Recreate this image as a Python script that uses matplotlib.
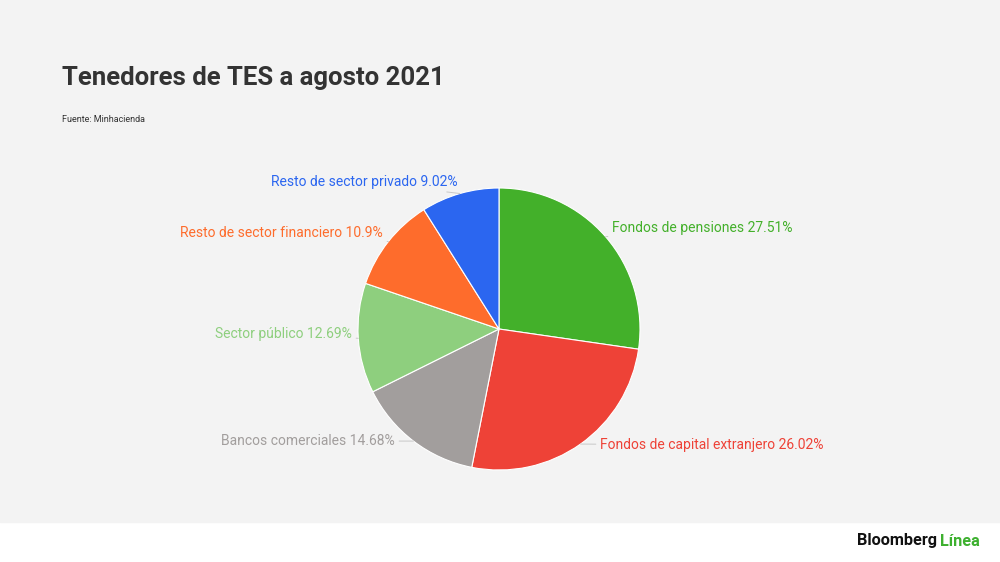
import matplotlib.pyplot as plt
import numpy as np

plt.rcParams['font.family'] = ['Roboto', 'DejaVu Sans']

# data
labels = ["Fondos de pensiones", "Fondos de capital extranjero", "Bancos comerciales",
          "Sector público", "Resto de sector financiero", "Resto de sector privado"]
shares = [27.51, 26.02, 14.68, 12.69, 10.9, 9.02]
pct_text = ["27.51%", "26.02%", "14.68%", "12.69%", "10.9%", "9.02%"]
colors = ["#43b02a", "#ee4237", "#a29e9d", "#8ecf7e", "#fe6c2c", "#2b66f0"]

# layout (pixels, y down)
W, H = 1000, 562
cx, cy, R = 499, 329, 141
label_pos = [(612, 228), (600, 445), (395, 441), (352, 334), (383, 233), (458, 182)]
label_ha = ["left", "left", "right", "right", "right", "right"]

fig = plt.figure(figsize=(W / 100, H / 100), dpi=100)
fig.patch.set_facecolor("white")
ax = fig.add_axes([0, 0, 1, 1])

ax.add_patch(plt.Rectangle((0, H - 522), W, 522, color="#f3f3f3", zorder=0))

wedges, _ = ax.pie(shares, colors=colors, startangle=90, counterclock=False,
                   center=(cx, H - cy), radius=R, frame=True,
                   wedgeprops=dict(edgecolor="white", linewidth=0.8))
ax.set_xlim(0, W)
ax.set_ylim(0, H)
ax.axis("off")

for w, lab, pct, col, (lx, ly), ha in zip(wedges, labels, pct_text, colors, label_pos, label_ha):
    mid = np.deg2rad((w.theta1 + w.theta2) / 2)
    ex = cx + R * np.cos(mid)
    ey = (H - cy) + R * np.sin(mid)
    ax.annotate(f"{lab} {pct}", xy=(ex, ey), xytext=(lx, H - ly),
                ha=ha, va="center", color=col, fontsize=10,
                arrowprops=dict(arrowstyle="-", color="#c8c8c8", lw=0.7,
                                shrinkA=1, shrinkB=0))

fig.text(62 / W, 1 - 78 / H, "Tenedores de TES a agosto 2021", fontsize=18.5,
         fontweight="bold", color="#333333", va="center", ha="left")
fig.text(62 / W, 1 - 119 / H, "Fuente: Minhacienda", fontsize=6.5,
         color="#333333", va="center", ha="left")

t = fig.text(857 / W, 1 - 541 / H, "Bloomberg", fontsize=11.7, fontweight="bold",
             color="#111111", va="center", ha="left")
fig.canvas.draw()
bb = t.get_window_extent()
fig.text((bb.x1 + 3) / W, 1 - 541 / H, "Línea", fontsize=11.7, fontweight="bold",
         color="#3db02f", va="center", ha="left")

fig.savefig("out.png", dpi=100, facecolor=fig.get_facecolor())
